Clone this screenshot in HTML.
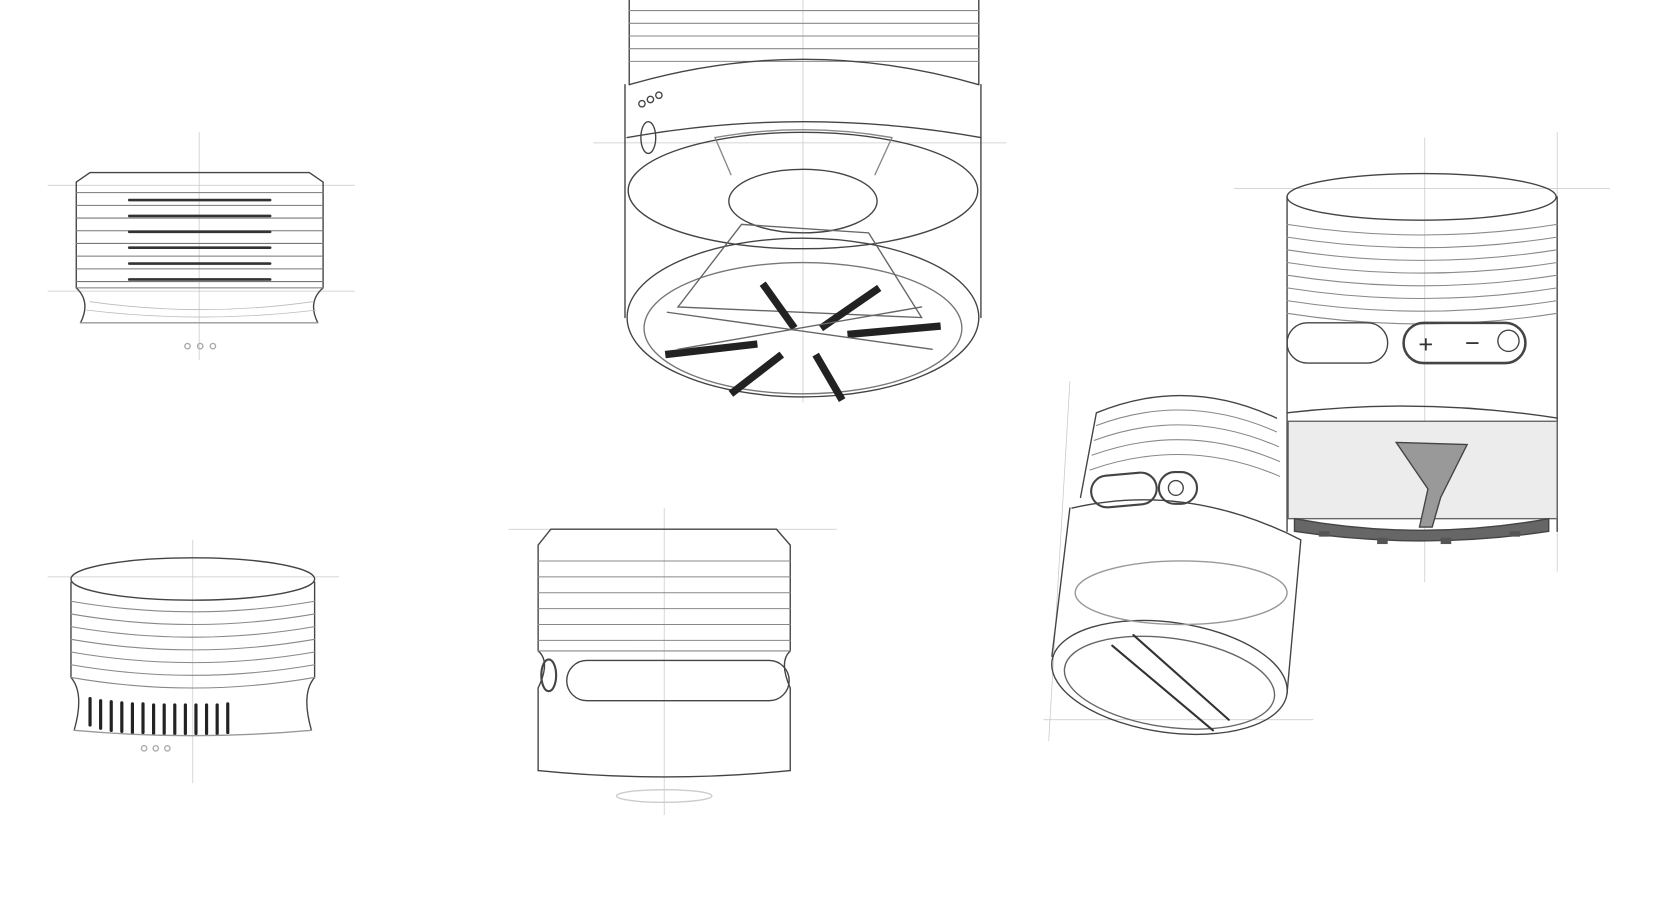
<!DOCTYPE html>
<html><head><meta charset="utf-8"><style>
html,body{margin:0;padding:0;background:#fff;width:1661px;height:905px;overflow:hidden}
svg{display:block}
</style></head><body>
<svg width="1661" height="905" viewBox="0 0 1568 855" preserveAspectRatio="none" xmlns="http://www.w3.org/2000/svg">
<g fill="none" stroke="#c8c8c8" stroke-width="0.7">
<line x1="45" y1="175" x2="335" y2="175"/><line x1="45" y1="275" x2="335" y2="275"/><line x1="188" y1="125" x2="188" y2="340"/>
<line x1="45" y1="545" x2="320" y2="545"/><line x1="182" y1="510" x2="182" y2="740"/>
<line x1="480" y1="500" x2="790" y2="500"/><line x1="627" y1="480" x2="627" y2="770"/>
<line x1="560" y1="135" x2="950" y2="135"/><line x1="758" y1="0" x2="758" y2="380"/>
<line x1="1165" y1="178" x2="1520" y2="178"/><line x1="1345" y1="130" x2="1345" y2="550"/><line x1="1470" y1="125" x2="1470" y2="540"/>
<line x1="985" y1="680" x2="1240" y2="680"/><line x1="1010" y1="360" x2="990" y2="700"/>
</g>
<g fill="none" stroke="#444" stroke-width="1.3" stroke-linecap="round">
<!-- Object 1 -->
<path d="M72 172 L85 163 L292 163 L305 172 L305 272 Q290 285 300 305 M72 172 L72 272 Q86 285 76 305"/>
<g stroke="#777" stroke-width="1">
<line x1="72" y1="182" x2="305" y2="182"/><line x1="72" y1="194" x2="305" y2="194"/><line x1="72" y1="206" x2="305" y2="206"/><line x1="72" y1="218" x2="305" y2="218"/><line x1="72" y1="230" x2="305" y2="230"/><line x1="72" y1="242" x2="305" y2="242"/><line x1="72" y1="254" x2="305" y2="254"/><line x1="72" y1="266" x2="305" y2="266"/><line x1="72" y1="272" x2="305" y2="272"/>
</g>
<g stroke="#333" stroke-width="2.5"><line x1="122" y1="189" x2="255" y2="189"/><line x1="122" y1="204" x2="255" y2="204"/><line x1="122" y1="219" x2="255" y2="219"/><line x1="122" y1="234" x2="255" y2="234"/><line x1="122" y1="249" x2="255" y2="249"/><line x1="122" y1="264" x2="255" y2="264"/></g>
<g stroke="#bbb" stroke-width="0.8"><path d="M85 285 Q190 300 295 285"/><path d="M82 293 Q190 306 298 293"/></g>
<line x1="76" y1="305" x2="300" y2="305" stroke="#999"/>
<circle cx="177" cy="327" r="2.5" stroke="#aaa"/><circle cx="189" cy="327" r="2.5" stroke="#aaa"/><circle cx="201" cy="327" r="2.5" stroke="#aaa"/>

<!-- Object 2 -->
<path d="M594 0 L594 80 M924 0 L924 80"/>
<g stroke="#888" stroke-width="1"><line x1="594" y1="10" x2="924" y2="10"/><line x1="594" y1="22" x2="924" y2="22"/><line x1="594" y1="34" x2="924" y2="34"/><line x1="594" y1="46" x2="924" y2="46"/><line x1="594" y1="58" x2="924" y2="58"/></g>
<path d="M594 80 Q759 32 924 80 M590 80 L590 300 M926 80 L926 300"/>
<path d="M592 130 Q759 100 926 130"/>
<ellipse cx="758" cy="180" rx="165" ry="55"/>
<ellipse cx="758" cy="190" rx="70" ry="30"/>
<ellipse cx="758" cy="300" rx="166" ry="75"/>
<ellipse cx="758" cy="310" rx="150" ry="62" stroke="#777"/>
<path d="M690 165 L675 130 Q758 115 842 130 L826 165" stroke="#888"/>
<ellipse cx="612" cy="130" rx="7" ry="15"/>
<circle cx="606" cy="98" r="3"/><circle cx="614" cy="94" r="3"/><circle cx="622" cy="90" r="3"/>
<path d="M700 212 L640 290 L870 300 L820 220 Z" stroke="#666"/>
<g stroke="#222" stroke-width="7" stroke-linecap="butt">
<line x1="720" y1="268" x2="750" y2="310"/><line x1="775" y1="310" x2="830" y2="272"/><line x1="800" y1="316" x2="888" y2="308"/><line x1="770" y1="335" x2="795" y2="378"/><line x1="738" y1="335" x2="690" y2="372"/><line x1="628" y1="335" x2="715" y2="325"/>
</g>
<path d="M630 295 L880 330 M640 330 L870 290" stroke="#666"/>

<!-- Object 3 -->
<ellipse cx="1342" cy="186" rx="127" ry="22"/>
<path d="M1215 186 L1215 502 M1470 186 L1470 502"/>
<g stroke="#888" stroke-width="1"><path d="M1215 212 Q1342 232 1470 212"/><path d="M1215 224 Q1342 244 1470 224"/><path d="M1215 236 Q1342 256 1470 236"/><path d="M1215 248 Q1342 268 1470 248"/><path d="M1215 260 Q1342 280 1470 260"/><path d="M1215 272 Q1342 292 1470 272"/><path d="M1215 284 Q1342 304 1470 284"/><path d="M1215 296 Q1342 316 1470 296"/></g>
<rect x="1215" y="305" width="95" height="38" rx="19"/>
<rect x="1325" y="305" width="115" height="38" rx="19" stroke-width="2.4"/>
<text x="1346" y="333" font-family="Liberation Sans,sans-serif" font-size="24" fill="#333" stroke="none" text-anchor="middle">+</text>
<text x="1390" y="332" font-family="Liberation Sans,sans-serif" font-size="24" fill="#333" stroke="none" text-anchor="middle">−</text>
<circle cx="1424" cy="322" r="10"/>
<path d="M1215 390 Q1342 375 1470 395"/>
<rect x="1216" y="398" width="254" height="92" fill="#ececec" stroke="#666"/>
<path d="M1318 418 L1385 420 L1360 470 L1352 498 L1340 498 L1348 462 Z" fill="#999" stroke="#444"/>
<path d="M1222 490 Q1342 512 1462 490 L1462 502 Q1342 520 1222 502 Z" fill="#666"/>
<g fill="#555" stroke="none"><rect x="1245" y="502" width="10" height="5"/><rect x="1300" y="508" width="10" height="6"/><rect x="1360" y="508" width="10" height="6"/><rect x="1425" y="502" width="10" height="5"/></g>

<!-- Object 4 -->
<path d="M1035 390 Q1120 355 1205 395 M1035 390 L1020 470"/>
<g stroke="#888" stroke-width="1"><path d="M1035 402 Q1120 370 1205 408"/><path d="M1033 416 Q1120 384 1207 422"/><path d="M1031 430 Q1120 398 1208 436"/><path d="M1029 444 Q1120 412 1208 450"/></g>
<rect x="1030" y="448" width="62" height="30" rx="15" stroke-width="2" transform="rotate(-5 1060 463)"/>
<rect x="1094" y="446" width="36" height="30" rx="15" stroke-width="2"/>
<circle cx="1110" cy="461" r="7"/>
<path d="M1012 480 Q1120 455 1228 510 M1010 480 L993 620 M1228 510 L1215 655"/>
<ellipse cx="1104" cy="640" rx="112" ry="52" transform="rotate(8 1104 640)"/>
<ellipse cx="1104" cy="645" rx="100" ry="42" transform="rotate(8 1104 645)" stroke="#666"/>
<path d="M1050 610 L1145 690 M1070 600 L1160 680" stroke="#333" stroke-width="2"/>
<ellipse cx="1115" cy="560" rx="100" ry="30" stroke="#999"/>

<!-- Object 5 -->
<ellipse cx="182" cy="547" rx="115" ry="20"/>
<path d="M67 550 L67 640 Q80 655 70 690 M297 550 L297 640 Q284 655 294 690"/>
<g stroke="#888" stroke-width="1"><path d="M67 568 Q182 588 297 568"/><path d="M67 580 Q182 600 297 580"/><path d="M67 592 Q182 612 297 592"/><path d="M67 604 Q182 624 297 604"/><path d="M67 616 Q182 636 297 616"/><path d="M67 628 Q182 648 297 628"/><path d="M67 640 Q182 660 297 640"/></g>
<g stroke="#222" stroke-width="3"><line x1="85" y1="660" x2="85" y2="685"/><line x1="95" y1="662" x2="95" y2="688"/><line x1="105" y1="663" x2="105" y2="690"/><line x1="115" y1="664" x2="115" y2="691"/><line x1="125" y1="665" x2="125" y2="692"/><line x1="135" y1="665" x2="135" y2="692"/><line x1="145" y1="666" x2="145" y2="693"/><line x1="155" y1="666" x2="155" y2="693"/><line x1="165" y1="666" x2="165" y2="693"/><line x1="175" y1="666" x2="175" y2="693"/><line x1="185" y1="666" x2="185" y2="693"/><line x1="195" y1="666" x2="195" y2="693"/><line x1="205" y1="666" x2="205" y2="693"/><line x1="215" y1="665" x2="215" y2="692"/></g>
<path d="M70 690 Q182 700 294 690" stroke="#999"/>
<circle cx="136" cy="707" r="2.5" stroke="#aaa"/><circle cx="147" cy="707" r="2.5" stroke="#aaa"/><circle cx="158" cy="707" r="2.5" stroke="#aaa"/>

<!-- Object 6 -->
<path d="M508 515 L520 500 L733 500 L746 515 L746 615 Q735 625 746 650 L746 728 M508 515 L508 615 Q520 625 508 650 L508 728"/>
<g stroke="#888" stroke-width="1"><line x1="508" y1="530" x2="746" y2="530"/><line x1="508" y1="545" x2="746" y2="545"/><line x1="508" y1="560" x2="746" y2="560"/><line x1="508" y1="575" x2="746" y2="575"/><line x1="508" y1="590" x2="746" y2="590"/><line x1="508" y1="605" x2="746" y2="605"/><line x1="508" y1="615" x2="746" y2="615"/></g>
<rect x="535" y="624" width="210" height="38" rx="19"/>
<ellipse cx="518" cy="638" rx="7" ry="15" stroke-width="2"/>
<path d="M508 728 Q627 740 746 728"/>
<ellipse cx="627" cy="752" rx="45" ry="6" stroke="#ccc"/>
</g>
</svg>
</body></html>
